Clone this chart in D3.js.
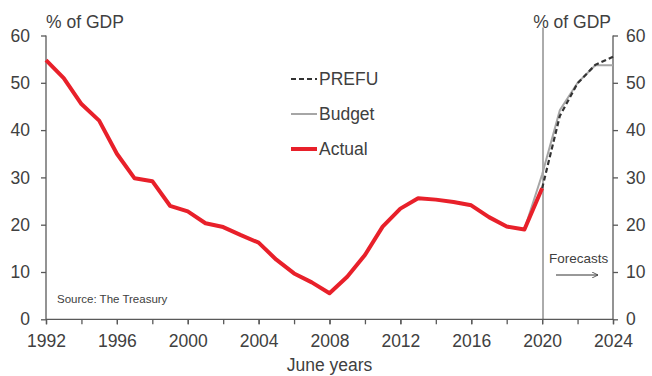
<!DOCTYPE html>
<html>
<head>
<meta charset="utf-8">
<script src="https://cdn.jsdelivr.net/npm/d3@7"></script>
<style>
  html, body { margin: 0; padding: 0; background: #fff; }
  svg { display: block; font-family: "Liberation Sans", Arial, sans-serif; }
</style>
</head>
<body>
<svg id="chart" width="652" height="376"></svg>
<script>
// Net core Crown debt, % of GDP, June years
const actualYears = [1992,1993,1994,1995,1996,1997,1998,1999,2000,2001,2002,2003,2004,2005,2006,2007,2008,2009,2010,2011,2012,2013,2014,2015,2016,2017,2018,2019,2020];
const actualValues = [54.8,51.0,45.5,42.0,35.0,29.8,29.2,24.0,22.8,20.3,19.5,17.8,16.2,12.6,9.7,7.8,5.5,9.0,13.6,19.6,23.4,25.6,25.3,24.8,24.1,21.6,19.6,19.0,27.7];
const budgetYears = [2019,2020,2021,2022,2023,2024];
const budgetValues = [19.0,30.6,44.2,50.0,53.7,53.7];
const prefuYears = [2020,2021,2022,2023,2024];
const prefuValues = [27.7,43.0,49.9,53.8,55.5];
const xTickYears = [1992,1996,2000,2004,2008,2012,2016,2020,2024];
const xMinorYears = d3.range(1992, 2025, 2);
const yTicks = [0,10,20,30,40,50,60];
const forecastStart = 2020.05;

const svg = d3.select("#chart");
const plotLeft = 46, plotRight = 613, plotTop = 35.5, plotBottom = 319.3;
const x = d3.scaleLinear().domain([1992, 2024]).range([plotLeft, plotRight]);
const y = d3.scaleLinear().domain([0, 60]).range([plotBottom, plotTop]);

const axisColor = "#595959";
const textColor = "#404040";

// forecast divider
svg.append("line")
  .attr("x1", x(forecastStart)).attr("x2", x(forecastStart))
  .attr("y1", y(60) - 8).attr("y2", y(0))
  .attr("stroke", "#595959").attr("stroke-width", 1);

// axes
const yLeft = svg.append("g").attr("transform", `translate(${plotLeft},0)`)
  .call(d3.axisLeft(y).tickValues(yTicks).tickSize(5).tickPadding(11));
const yRight = svg.append("g").attr("transform", `translate(${plotRight},0)`)
  .call(d3.axisRight(y).tickValues(yTicks).tickSize(5).tickPadding(8));
const xAxis = svg.append("g").attr("transform", `translate(0,${plotBottom})`)
  .call(d3.axisBottom(x).tickValues(xTickYears).tickFormat(d3.format("d")).tickSize(5).tickPadding(10));
svg.append("g").attr("transform", `translate(0,${plotBottom})`)
  .call(d3.axisBottom(x).tickValues(xMinorYears).tickFormat("").tickSize(5))
  .call(g => g.select(".domain").remove());

svg.selectAll(".domain").attr("stroke", axisColor).attr("stroke-width", 1.3);
svg.selectAll(".tick line").attr("stroke", axisColor).attr("stroke-width", 1.3);
svg.selectAll(".tick text").attr("fill", textColor).style("font-size", "17.5px")
  .style("font-family", "'Liberation Sans', Arial, sans-serif");
// plain axis lines without outer end ticks
yLeft.select(".domain").attr("d", `M0,${y(60)}V${y(0)}`);
yRight.select(".domain").attr("d", `M0,${y(60)}V${y(0)}`);
xAxis.select(".domain").attr("d", `M${plotLeft},0H${plotRight}`);

// series
const line = d3.line().x(d => x(d[0])).y(d => y(d[1]));
svg.append("path").datum(d3.zip(budgetYears, budgetValues))
  .attr("d", line).attr("fill", "none").attr("stroke", "#a6a6a6").attr("stroke-width", 2);
svg.append("path").datum(d3.zip(prefuYears, prefuValues))
  .attr("d", line).attr("fill", "none").attr("stroke", "#333333").attr("stroke-width", 2.2)
  .attr("stroke-dasharray", "5,3");
svg.append("path").datum(d3.zip(actualYears, actualValues))
  .attr("d", line).attr("fill", "none").attr("stroke", "#e8202a").attr("stroke-width", 4)
  .attr("stroke-linejoin", "round");

// axis titles
svg.append("text").attr("x", 46).attr("y", 28).text("% of GDP")
  .attr("fill", textColor).style("font-size", "17.5px");
svg.append("text").attr("x", 611).attr("y", 28).attr("text-anchor", "end").text("% of GDP")
  .attr("fill", textColor).style("font-size", "17.5px");
svg.append("text").attr("x", x(2008)).attr("y", 371).attr("text-anchor", "middle").text("June years")
  .attr("fill", textColor).style("font-size", "17.5px");

// legend
const legend = [
  { label: "PREFU", color: "#333333", width: 2.2, dash: "5,3" },
  { label: "Budget", color: "#a6a6a6", width: 2, dash: null },
  { label: "Actual", color: "#e8202a", width: 4, dash: null }
];
const legendY = [79, 114, 149];
legend.forEach((d, i) => {
  svg.append("line").attr("x1", 291).attr("x2", 317)
    .attr("y1", legendY[i]).attr("y2", legendY[i])
    .attr("stroke", d.color).attr("stroke-width", d.width)
    .attr("stroke-dasharray", d.dash);
  svg.append("text").attr("x", 319).attr("y", legendY[i] + 6).text(d.label)
    .attr("fill", textColor).style("font-size", "17.5px");
});

// notes
svg.append("text").attr("x", 57).attr("y", 303).text("Source: The Treasury")
  .attr("fill", textColor).style("font-size", "11.5px");
svg.append("text").attr("x", 549).attr("y", 263).text("Forecasts")
  .attr("fill", textColor).style("font-size", "13.5px");
svg.append("defs").append("marker").attr("id", "arrow")
  .attr("viewBox", "0 0 10 10").attr("refX", 10).attr("refY", 5)
  .attr("markerWidth", 6).attr("markerHeight", 6).attr("orient", "auto")
  .append("path").attr("d", "M0,0L10,5L0,10").attr("fill", "none")
  .attr("stroke", "#333").attr("stroke-width", 1.3);
svg.append("line").attr("x1", 556).attr("x2", 598).attr("y1", 275).attr("y2", 275)
  .attr("stroke", "#333").attr("stroke-width", 1).attr("marker-end", "url(#arrow)");
</script>
</body>
</html>
